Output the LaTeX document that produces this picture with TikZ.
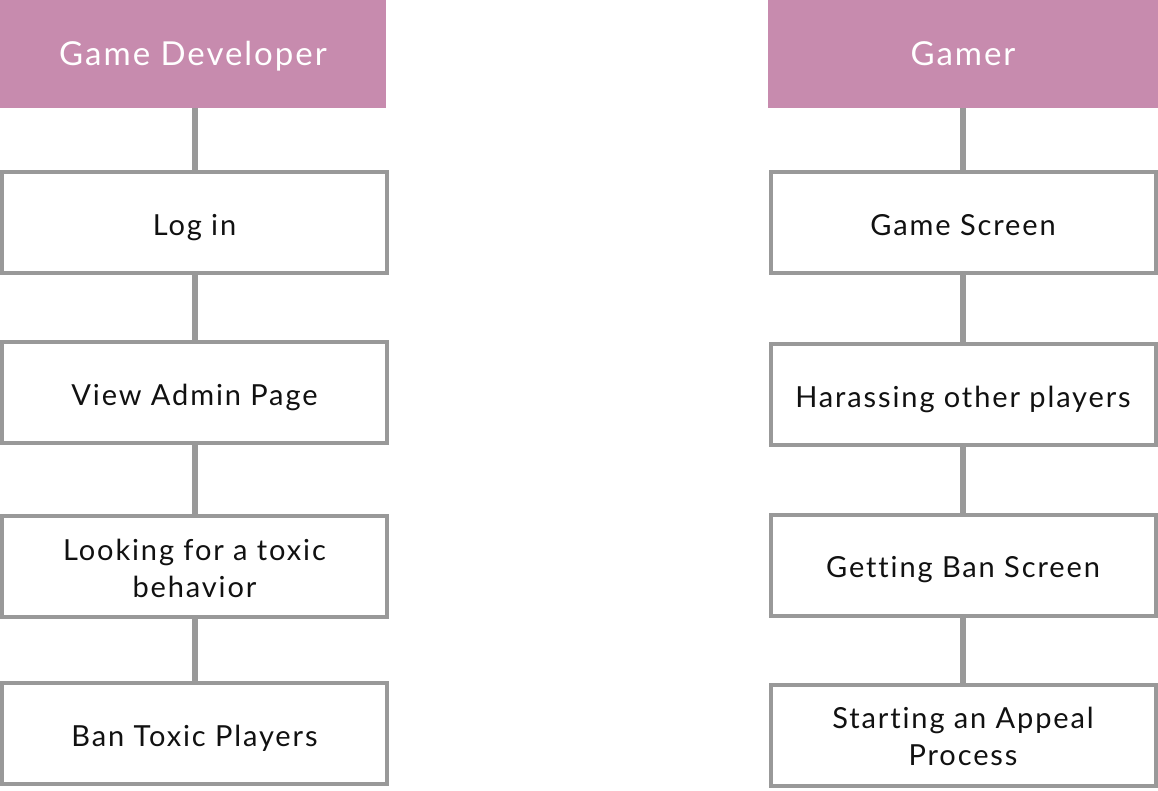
\documentclass[tikz,border=0pt]{standalone}
\usepackage{fontspec}
\setmainfont{Lato}
\newfontfamily\boxfont[LetterSpace=6.5,Ligatures=NoCommon]{Lato}
\newfontfamily\hdrfont[LetterSpace=6,Ligatures=NoCommon]{Lato}
\definecolor{hdr}{HTML}{C78BAE}
\definecolor{edge}{HTML}{999999}
\definecolor{txt}{HTML}{111111}
\newcommand\onel[1]{\raisebox{0pt}[25pt][0pt]{#1}}
\newcommand\twol[2]{\raisebox{0pt}[61pt][0pt]{\begin{tabular}[b]{@{}c@{}}#1\\#2\end{tabular}}}
\newcommand\hdl[1]{\raisebox{0pt}[23pt][0pt]{#1}}
\begin{document}
\begin{tikzpicture}[x=1pt,y=-1pt,
  header/.style={fill=hdr,draw=none,text=white,minimum width=#1,minimum height=108pt,inner sep=0pt,outer sep=0pt,font=\hdrfont\fontsize{33}{38}\selectfont},
  stepbox/.style={draw=edge,line width=4pt,fill=white,text=txt,minimum width=385pt,minimum height=101pt,inner sep=0pt,outer sep=0pt,align=center,font=\boxfont\fontsize{29}{37}\selectfont},
  link/.style={draw=edge,line width=6pt}]
\useasboundingbox (0,0) rectangle (1158,790);
\node[header=386pt] (gd) at (193,54) {\hdl{Game Developer}};
\node[header=390pt] (gm) at (963,54) {\hdl{Gamer}};
\node[stepbox] (l1) at (194.5,222.5) {\onel{Log in}};
\node[stepbox] (l2) at (194.5,392.5) {\onel{View Admin Page}};
\node[stepbox] (l3) at (194.5,566.5) {\twol{Looking for a toxic}{behavior}};
\node[stepbox] (l4) at (194.5,733.5) {\onel{Ban Toxic Players}};
\node[stepbox] (r1) at (963,222.5) {\onel{Game Screen}};
\node[stepbox] (r2) at (963,394.5) {\onel{Harassing other players}};
\node[stepbox] (r3) at (963,565) {\onel{Getting Ban Screen}};
\node[stepbox] (r4) at (963,735) {\twol{Starting an Appeal}{Process}};
\draw[link] (l1.north |- gd.south) -- (l1.north);
\draw[link] (l1.south) -- (l2.north);
\draw[link] (l2.south) -- (l3.north);
\draw[link] (l3.south) -- (l4.north);
\draw[link] (gm.south) -- (r1.north);
\draw[link] (r1.south) -- (r2.north);
\draw[link] (r2.south) -- (r3.north);
\draw[link] (r3.south) -- (r4.north);
\end{tikzpicture}
\end{document}
